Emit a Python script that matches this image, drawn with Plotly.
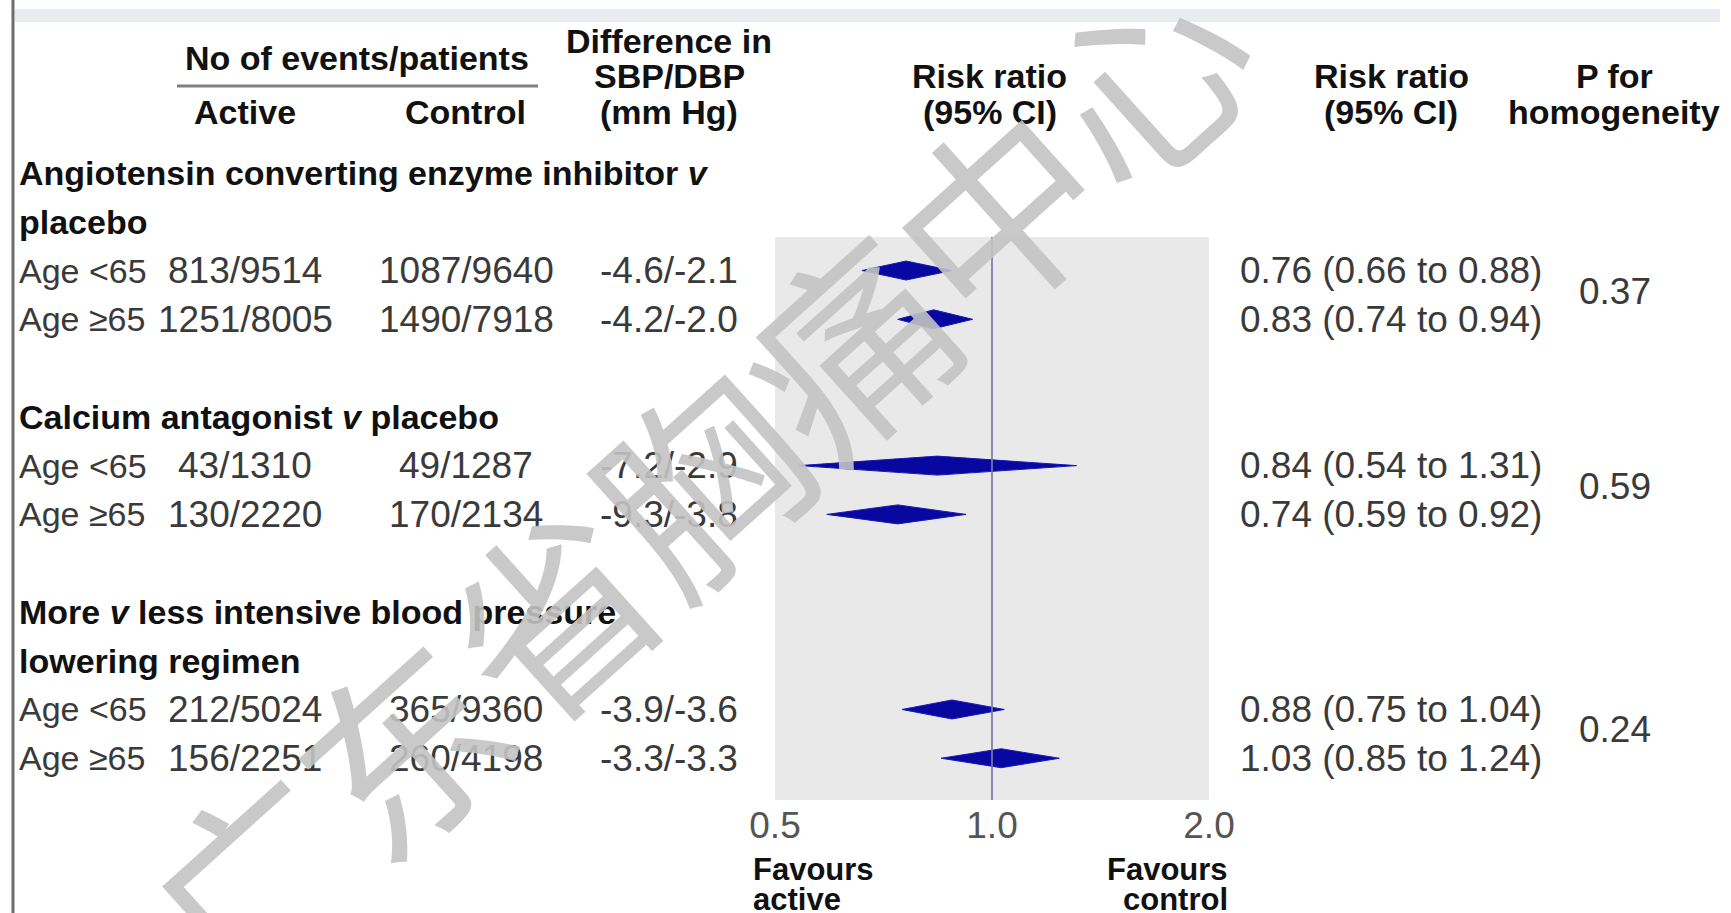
import math
import plotly.graph_objects as go

W, H = 1731, 913

# ---------------- data ----------------
group_titles = [
    ["Angiotensin converting enzyme inhibitor <i>v</i>", "placebo"],
    ["Calcium antagonist <i>v</i> placebo"],
    ["More <i>v</i> less intensive blood pressure", "lowering regimen"],
]
age_labels = ["Age <65", "Age ≥65"]
active_events = ["813/9514", "1251/8005", "43/1310", "130/2220", "212/5024", "156/2251"]
control_events = ["1087/9640", "1490/7918", "49/1287", "170/2134", "365/9360", "260/4198"]
bp_difference = ["-4.6/-2.1", "-4.2/-2.0", "-7.2/-2.9", "-9.3/-3.8", "-3.9/-3.6", "-3.3/-3.3"]
risk_ratio = [0.76, 0.83, 0.84, 0.74, 0.88, 1.03]
ci_low = [0.66, 0.74, 0.54, 0.59, 0.75, 0.85]
ci_high = [0.88, 0.94, 1.31, 0.92, 1.04, 1.24]
p_homogeneity = ["0.37", "0.59", "0.24"]
x_ticks = [0.5, 1.0, 2.0]
x_tick_labels = ["0.5", "1.0", "2.0"]
watermark = "广东省胸痛中心"

# ---------------- layout helpers ----------------
ROW0_PX = 173.0
ROW_H = 48.77


def L(px):
    return (px - ROW0_PX) / ROW_H


FONT = "Liberation Sans, Arial, Helvetica, sans-serif"
BOLD_SIZE = 34
LABEL_SIZE = 34
NUM_SIZE = 37
DATA_COLOR = "#3a3a3a"
HEAD_COLOR = "#111111"

PANEL_TOP, PANEL_BOTTOM = 237, 800
X_LEFT_PX, X_RIGHT_PX = 775, 1209

# assign lines
heading_lines = []  # (line, text)
row_lines = []
group_rows = []
line = 0
for titles in group_titles:
    for t in titles:
        heading_lines.append((line, t))
        line += 1
    rows = []
    for _ in age_labels:
        row_lines.append(line)
        rows.append(line)
        line += 1
    group_rows.append(rows)
    line += 1

fig = go.Figure()

# diamonds
DIAMOND_HALF = 9.5 / ROW_H
for i, y in enumerate(row_lines):
    xs = [ci_low[i], risk_ratio[i], ci_high[i], risk_ratio[i], ci_low[i]]
    ys = [y, y - DIAMOND_HALF, y, y + DIAMOND_HALF, y]
    fig.add_trace(go.Scatter(
        x=xs, y=ys, mode="lines", fill="toself",
        fillcolor="#0808a0", line=dict(color="#1818b8", width=1),
        hoverinfo="skip", showlegend=False))

# reference line at 1
fig.add_trace(go.Scatter(
    x=[1, 1], y=[L(PANEL_TOP), L(PANEL_BOTTOM)], mode="lines",
    line=dict(color="rgba(120,120,170,0.85)", width=2),
    hoverinfo="skip", showlegend=False))

shapes = [
    # grey panel
    dict(type="rect", xref="x domain", yref="y", x0=0, x1=1,
         y0=L(PANEL_TOP), y1=L(PANEL_BOTTOM), fillcolor="#e9e9ea",
         line=dict(width=0), layer="below"),
    # top band
    dict(type="rect", xref="paper", yref="y", x0=15 / W, x1=1720 / W,
         y0=L(9), y1=L(22), fillcolor="#e9edf2", line=dict(width=0), layer="below"),
    # left rule
    dict(type="line", xref="paper", yref="y", x0=13 / W, x1=13 / W,
         y0=L(0), y1=L(H), line=dict(color="#6e6e6e", width=3)),
    # underline of "No of events/patients"
    dict(type="line", xref="paper", yref="y", x0=177 / W, x1=538 / W,
         y0=L(86), y1=L(86), line=dict(color="#808080", width=3)),
]

ann = []


def txt(text, xpx, ypx_or_L, size, color, anchor="center", bold=False, is_line=False):
    yv = ypx_or_L if is_line else L(ypx_or_L)
    ann.append(dict(
        text=f"<b>{text}</b>" if bold else text,
        xref="paper", yref="y", x=xpx / W, y=yv,
        xanchor=anchor, yanchor="middle", showarrow=False,
        font=dict(family=FONT, size=size, color=color)))


# column headers
txt("No of events/patients", 357, 58, BOLD_SIZE, HEAD_COLOR, bold=True)
txt("Active", 245, 112, BOLD_SIZE, HEAD_COLOR, bold=True)
txt("Control", 465, 112, BOLD_SIZE, HEAD_COLOR, bold=True)
txt("Difference in", 669, 41, BOLD_SIZE, HEAD_COLOR, bold=True)
txt("SBP/DBP", 669, 76, BOLD_SIZE, HEAD_COLOR, bold=True)
txt("(mm Hg)", 669, 112, BOLD_SIZE, HEAD_COLOR, bold=True)
txt("Risk ratio", 990, 76, BOLD_SIZE, HEAD_COLOR, bold=True)
txt("(95% CI)", 990, 112, BOLD_SIZE, HEAD_COLOR, bold=True)
txt("Risk ratio", 1391, 76, BOLD_SIZE, HEAD_COLOR, bold=True)
txt("(95% CI)", 1391, 112, BOLD_SIZE, HEAD_COLOR, bold=True)
txt("P for", 1614, 76, BOLD_SIZE, HEAD_COLOR, bold=True)
txt("homogeneity", 1614, 112, BOLD_SIZE, HEAD_COLOR, bold=True)

# group headings
for ln, t in heading_lines:
    txt(t, 17, ln, BOLD_SIZE, HEAD_COLOR, anchor="left", bold=True, is_line=True)

# data rows
for i, y in enumerate(row_lines):
    txt(age_labels[i % 2], 17, y, LABEL_SIZE, DATA_COLOR, anchor="left", is_line=True)
    txt(active_events[i], 245, y, NUM_SIZE, DATA_COLOR, is_line=True)
    txt(control_events[i], 466, y, NUM_SIZE, DATA_COLOR, is_line=True)
    txt(bp_difference[i], 669, y, NUM_SIZE, DATA_COLOR, is_line=True)
    txt(f"{risk_ratio[i]:.2f} ({ci_low[i]:.2f} to {ci_high[i]:.2f})", 1391, y,
        NUM_SIZE, DATA_COLOR, is_line=True)

for g, rows in enumerate(group_rows):
    txt(p_homogeneity[g], 1615, sum(rows) / len(rows) - 0.08, NUM_SIZE, DATA_COLOR, is_line=True)

# favours labels
txt("Favours", 751, 869, 31, HEAD_COLOR, anchor="left", bold=True)
txt("active", 751, 899, 31, HEAD_COLOR, anchor="left", bold=True)
txt("Favours", 1230, 869, 31, HEAD_COLOR, anchor="right", bold=True)
txt("control", 1230, 899, 31, HEAD_COLOR, anchor="right", bold=True)

# watermark on top
ann.append(dict(
    text=watermark, xref="paper", yref="paper", x=695 / W, y=1 - 475 / H,
    xanchor="center", yanchor="middle", showarrow=False, textangle=-42,
    font=dict(family="Noto Sans CJK SC", size=200, color="rgba(195,195,195,0.9)")))

fig.update_layout(
    width=W, height=H,
    margin=dict(l=0, r=0, t=0, b=0, autoexpand=False),
    paper_bgcolor="white", plot_bgcolor="rgba(0,0,0,0)",
    showlegend=False,
    xaxis=dict(type="log", range=[math.log10(0.5), math.log10(2.0)],
               domain=[X_LEFT_PX / W, X_RIGHT_PX / W],
               anchor="free", position=1 - PANEL_BOTTOM / H,
               tickvals=x_ticks, ticktext=x_tick_labels, ticks="",
               showgrid=False, zeroline=False, showline=False, automargin=False,
               tickfont=dict(family=FONT, size=NUM_SIZE, color="#555555")),
    yaxis=dict(range=[L(H), L(0)], domain=[0, 1], visible=False,
               showgrid=False, zeroline=False, automargin=False),
    shapes=shapes,
    annotations=ann,
)

fig.write_html("out.html")
